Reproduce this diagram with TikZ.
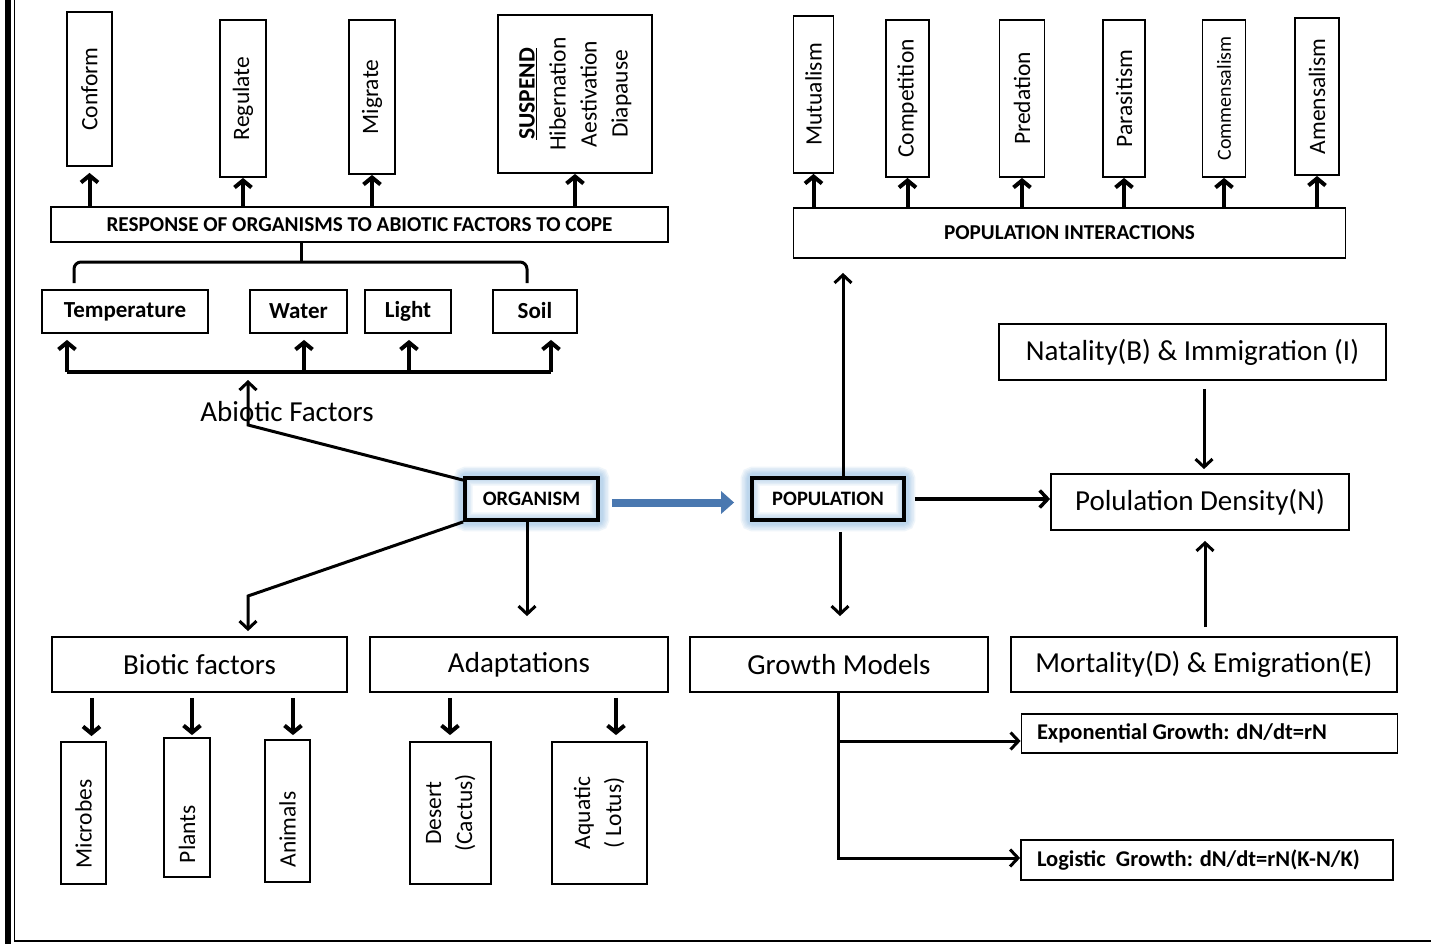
\documentclass[tikz,border=0pt]{standalone}
\usepackage{fontspec}
\usepackage{graphicx}
\setmainfont{Carlito}
\usetikzlibrary{arrows.meta,backgrounds}
\newcommand\ftitle{\fontsize{29}{34}\selectfont}
\newcommand\fvert{\fontsize{23.5}{31}\selectfont}
\newcommand\fcaps{\bfseries\fontsize{21.2}{25}\selectfont}
\newcommand\fkey{\bfseries\fontsize{20.5}{24}\selectfont}
\newcommand\ffact{\bfseries\fontsize{23}{28}\selectfont}
\newcommand\fgrow{\bfseries\fontsize{22.5}{27}\selectfont}
\newcommand\vt[1]{\rotatebox{90}{#1}}
\definecolor{glowblue}{HTML}{9DC3E6}
\definecolor{arrblue}{HTML}{4A78B0}
\begin{document}
\begin{tikzpicture}[x=1pt,y=-1pt,
  box/.style={draw, line width=1.8pt, inner sep=0pt, align=center},
  vbox/.style={box, font=\fvert},
  tbox/.style={box, font=\ftitle},
  fbox/.style={box, font=\ffact, minimum height=43},
  kbox/.style={draw, line width=3.8pt, inner sep=0pt, font=\fkey},
  lnk/.style={line width=3pt},
  arr/.style={line width=4pt, -{Straight Barb[length=7pt,width=17pt]}},
  arrL/.style={lnk, -{Straight Barb[length=8pt,width=17pt]}},
  bluearr/.style={line width=8pt, arrblue, -{Triangle[length=13pt,width=22pt]}}
]
\begin{scope}[on background layer]
\fill[white] (0,0) rectangle (1431,944);
\end{scope}
\useasboundingbox (0,0) rectangle (1431,944);

% frame
\draw[line width=6pt] (8,0) -- (8,944);
\draw[line width=1.5pt] (14.5,0) -- (14.5,941) -- (1431,941);

% ---- top-left responses
\node[vbox, minimum width=45, minimum height=154] (conform) at (89.5,89) {\vt{Conform}};
\node[vbox, minimum width=46, minimum height=157] (regulate) at (243,98.5) {\vt{Regulate}};
\node[vbox, minimum width=46, minimum height=154] (migrate) at (372,97) {\vt{Migrate}};
\node[vbox, minimum width=154, minimum height=158] (suspend) at (575,94)
  {\vt{\begin{tabular}{@{}c@{}}\underline{\textbf{SUSPEND}}\\Hibernation\\Aestivation\\Diapause\end{tabular}}};
\node[box, font=\fcaps, minimum width=617, minimum height=35] (resp) at (359.5,224.5)
  {RESPONSE OF ORGANISMS TO ABIOTIC FACTORS TO COPE};

\draw[arr, shorten >=6pt] (resp.north -| conform) -- (conform.south);
\draw[arr] (resp.north -| regulate) -- (regulate.south);
\draw[arr] (resp.north -| migrate) -- (migrate.south);
\draw[arr] (resp.north -| suspend) -- (suspend.south);

% factors
\node[fbox, minimum width=166, text depth=2pt] (temp) at (125,311.5) {Temperature};
\node[fbox, minimum width=97] (water) at (298.5,311.5) {Water};
\node[fbox, minimum width=86] (light) at (408,311.5) {Light};
\node[fbox, minimum width=84, text depth=2pt] (soil) at (535,311.5) {Soil};

% bracket
\coordinate (brc) at (301,262);
\coordinate (brL) at (74,283);
\coordinate (brR) at (527,283);
\draw[lnk] (resp.south -| brc) -- (brc);
\draw[lnk, rounded corners=7pt] (brL) -- (brL |- brc) -- (brR |- brc) -- (brR);

% bus
\coordinate (b1) at (67,372);
\coordinate (b2) at (304,372);
\coordinate (b3) at (409,372);
\coordinate (b4) at (551,372);
\draw[lnk, line width=3.5pt] (b1) -- (b4);
\draw[arr, shorten >=6pt] (b1) -- (b1 |- temp.south);
\draw[arr, shorten >=6pt] (b2) -- (b2 |- water.south);
\draw[arr, shorten >=6pt] (b3) -- (b3 |- light.south);
\draw[arr, shorten >=6pt] (b4) -- (b4 |- soil.south);

\node[font=\ftitle] (ablab) at (287,412) {Abiotic Factors};

% organism & population
\node[kbox, minimum width=133, minimum height=42] (org) at (531.5,499) {ORGANISM};
\node[kbox, minimum width=152, minimum height=42] (pop) at (828,499) {POPULATION};
\begin{scope}[on background layer]
  \foreach \n in {org,pop}{
    \foreach \w in {19,16,13,10,8,6}
      \draw[line width=\w pt, glowblue, opacity=0.16, rounded corners=3pt] (\n.south west) rectangle (\n.north east);
  }
\end{scope}
\draw[bluearr] ([xshift=12pt,yshift=-3.5pt]org.east) -- ([xshift=-16pt,yshift=-3.5pt]pop.west);

\coordinate (abj) at (248,425);
\coordinate (abt) at (248,380);
\draw[arrL] ([yshift=-4pt]org.north west) -- (abj) -- (abt);

% lower left
\node[tbox, minimum width=295, minimum height=55] (bio) at (199.5,664.5) {Biotic factors};
\node[tbox, minimum width=298, minimum height=55] (adapt) at (519,664.5) {Adaptations};
\node[tbox, minimum width=298, minimum height=55] (growth) at (839,664.5) {Growth Models};
\node[tbox, minimum width=386, minimum height=55] (mort) at (1204,664.5) {Mortality(D) \& Emigration(E)};

\coordinate (bj) at (248,596);
\draw[arrL, shorten >=5pt] (org.south west) -- (bj) -- (bj |- bio.north);
\coordinate (xA) at (527,0);
\draw[arrL, shorten >=20pt] (org.south -| xA) -- (adapt.north -| xA);

\node[vbox, minimum width=45, minimum height=142] (microbes) at (83.5,813) {\vt{Microbes\hspace{22pt}}};
\node[vbox, minimum width=46, minimum height=139] (plants) at (187,807.5) {\vt{Plants\hspace{53pt}}};
\node[vbox, minimum width=45, minimum height=142] (animals) at (287.5,811) {\vt{Animals\hspace{37pt}}};
\node[vbox, minimum width=81, minimum height=142] (desert) at (450.5,813)
  {\vt{\begin{tabular}{@{}c@{}}Desert\\(Cactus)\end{tabular}}};
\node[vbox, minimum width=95, minimum height=142] (aquatic) at (599.5,813)
  {\vt{\begin{tabular}{@{}c@{}}Aquatic\\( Lotus)\end{tabular}}};

\coordinate (m1) at (91.5,0);
\coordinate (m2) at (192,0);
\coordinate (m3) at (293,0);
\coordinate (m4) at (450,0);
\coordinate (m5) at (616,0);
\draw[arr, shorten <=5pt, shorten >=5pt] (bio.south -| m1) -- (microbes.north -| m1);
\draw[arr, shorten <=5pt, shorten >=2pt] (bio.south -| m2) -- (plants.north -| m2);
\draw[arr, shorten <=5pt, shorten >=4pt] (bio.south -| m3) -- (animals.north -| m3);
\draw[arr, shorten <=5pt, shorten >=6pt] (adapt.south -| m4) -- (desert.north -| m4);
\draw[arr, shorten <=5pt, shorten >=6pt] (adapt.south -| m5) -- (aquatic.north -| m5);

% ---- population interactions
\node[box, font=\fcaps, minimum width=552, minimum height=50] (popint) at (1069.5,233) {POPULATION INTERACTIONS};
\node[vbox, minimum width=40, minimum height=157] (mutual) at (813.5,94.5) {\vt{Mutualism}};
\node[vbox, minimum width=43, minimum height=157] (compet) at (907.5,98.5) {\vt{Competition}};
\node[vbox, minimum width=45, minimum height=157] (pred) at (1022,98.5) {\vt{Predation}};
\node[vbox, minimum width=42, minimum height=157] (paras) at (1124,98.5) {\vt{Parasitism}};
\node[vbox, minimum width=43, minimum height=157] (comm) at (1224,98.5) {\vt{\fontsize{20}{24}\selectfont Commensalism}};
\node[vbox, minimum width=44, minimum height=157] (amens) at (1317,96.5) {\vt{Amensalism}};

\foreach \n in {mutual,compet,pred,paras,comm,amens}
  \draw[arr] (popint.north -| \n) -- (\n.south);

\coordinate (xP) at (843,0);
\draw[arrL, shorten >=14pt] (pop.north -| xP) -- (popint.south -| xP);

% ---- density
\node[tbox, minimum width=387, minimum height=56] (nat) at (1192.5,352) {Natality(B) \& Immigration (I)};
\node[tbox, minimum width=298, minimum height=56] (dens) at (1200,502) {Polulation Density(N)};
\coordinate (xN) at (1204,0);
\coordinate (xM) at (1205,0);
\draw[arrL, shorten <=8pt, shorten >=4pt] (nat.south -| xN) -- (dens.north -| xN);
\draw[arrL, shorten <=9pt, shorten >=10pt] (mort.north -| xM) -- (dens.south -| xM);
\draw[arrL, line width=3.5pt, shorten <=9pt] (pop.east) -- (pop.east -| dens.west);

% ---- growth models
\coordinate (xG) at (840,0);
\draw[arrL, shorten <=10pt, shorten >=20pt] (pop.south -| xG) -- (growth.north -| xG);
\node[box, font=\fgrow, minimum width=376, minimum height=39] (expo) at (1209.5,733.5)
  {\makebox[345pt][l]{Exponential Growth: dN/dt=rN}};
\node[box, font=\fgrow, minimum width=372, minimum height=40] (logi) at (1207,860)
  {\makebox[340pt][l]{Logistic~ Growth: dN/dt=rN(K-N/K)}};
\coordinate (gv) at (838,858);
\coordinate (ge) at (838,741);
\draw[arrL] (growth.south -| gv) -- (gv) -- (gv -| logi.west);
\draw[arrL] (ge) -- (ge -| expo.west);
\end{tikzpicture}
\end{document}
